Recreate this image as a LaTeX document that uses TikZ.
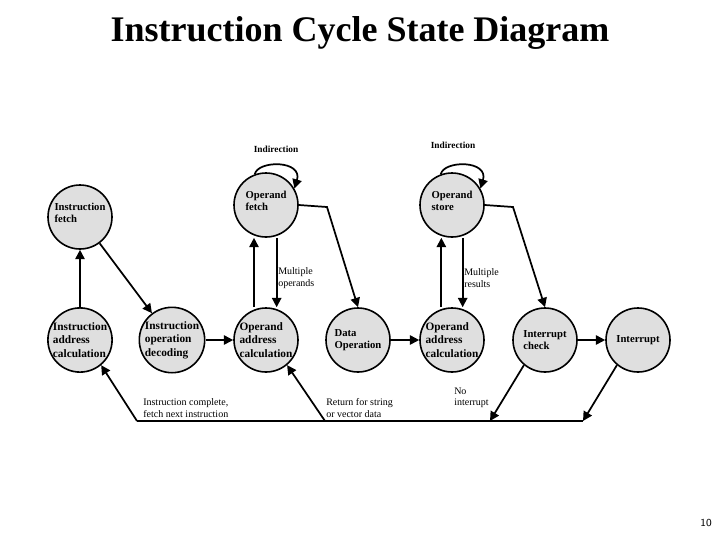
\documentclass[tikz,border=0pt]{standalone}
\usepackage{fontspec}
\setmainfont{Liberation Serif}
\usetikzlibrary{arrows.meta}
\begin{document}
\begin{tikzpicture}[x=0.75pt,y=-0.75pt,
  st/.style={circle,draw,line width=1.2pt,fill=gray!25,minimum size=64*0.75pt,inner sep=0pt,font=\bfseries\fontsize{8}{9}\selectfont,align=left},
  ar/.style={line width=1.3pt,-{Triangle[length=7pt,width=7pt]}},
  lb/.style={font=\fontsize{7.5}{8.5}\selectfont,align=left,inner sep=0pt}]
\useasboundingbox (0,0) rectangle (720,540);
\node[font=\bfseries\fontsize{27}{30}\selectfont] (title) at (360,33) {Instruction Cycle State Diagram};
\node[font=\sffamily\fontsize{8}{9}\selectfont] (pg) at (706,523) {10};
\node[st] (if) at (80,217) {Instruction\\fetch\\[-2pt]};
\node[st] (of) at (266,205) {Operand\\fetch\\[-2pt]};
\node[st] (os) at (452,205) {Operand\\store\\[-2pt]};
\node[st,font=\bfseries\fontsize{8.5}{10}\selectfont] (iac) at (80,340) {Instruction\\address\\calculation};
\node[st,font=\bfseries\fontsize{8.5}{10}\selectfont] (iod) at (172,340) {Instruction\\operation\\decoding};
\node[st,font=\bfseries\fontsize{8.5}{10}\selectfont] (oac) at (266,340) {Operand\\address\\calculation};
\node[st] (dop) at (358,340) {Data\\Operation};
\node[st,font=\bfseries\fontsize{8.5}{10}\selectfont] (oac2) at (452,340) {Operand\\address\\calculation};
\node[st] (ic) at (545,340) {Interrupt\\check};
\node[st] (int) at (638,340) {Interrupt};
\node[lb,font=\bfseries\fontsize{7}{8}\selectfont] (ind1) at (276,149) {Indirection};
\node[lb,font=\bfseries\fontsize{7}{8}\selectfont] (ind2) at (453,145) {Indirection};
\node[lb,anchor=west] (mo) at (278,278) {Multiple\\operands};
\node[lb,anchor=west] (mr) at (464,278) {Multiple\\results};
\node[lb,anchor=west] (ic1) at (143,408) {Instruction complete,\\fetch next instruction};
\node[lb,anchor=west] (rs) at (326,408) {Return for string\\or vector data};
\node[lb,anchor=west] (ni) at (454,398) {No\\interrupt};
\coordinate (l1) at (137,421); \coordinate (l2) at (325,421);
\coordinate (l3) at (490,421); \coordinate (l4) at (583,421);
\draw[line width=1.3pt] (l1) -- (l4);
\draw[ar] (iac) -- (if);
\draw[ar] (if) -- (iod);
\draw[ar] (iod) -- (oac);
\draw[ar] (dop) -- (oac2);
\draw[ar] (ic) -- (int);
\draw[ar] ([xshift=-9pt]oac.north) -- ([xshift=-9pt]of.south);
\draw[ar] ([xshift=8pt]of.south) -- ([xshift=8pt]oac.north);
\draw[ar] ([xshift=-8pt]oac2.north) -- ([xshift=-8pt]os.south);
\draw[ar] ([xshift=8pt]os.south) -- ([xshift=8pt]oac2.north);
\draw[ar] (of.east) -- (327,207) -- (dop.north);
\draw[ar] (os.east) -- (513,207) -- (ic.north);
\draw[ar] (of.110) .. controls (258,160) and (303,160) .. (of.30);
\draw[ar] (os.110) .. controls (444,160) and (489,160) .. (os.30);
\draw[ar] (l1) -- (iac.-50);
\draw[ar] (l2) -- (oac.-50);
\draw[ar] (ic.-130) -- (l3);
\draw[ar] (int.-130) -- (l4);
\end{tikzpicture}
\end{document}
